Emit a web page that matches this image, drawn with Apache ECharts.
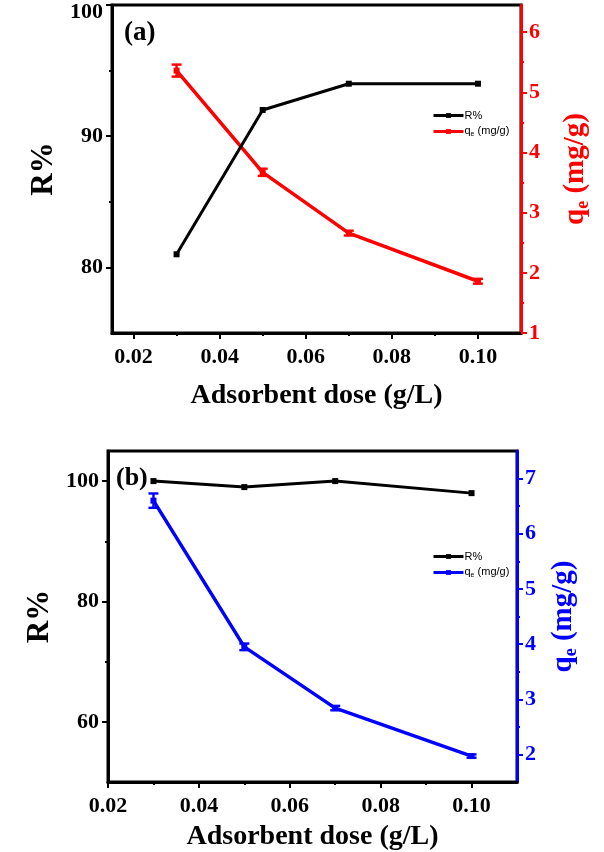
<!DOCTYPE html>
<html>
<head>
<meta charset="utf-8">
<script src="https://cdn.jsdelivr.net/npm/echarts@6/dist/echarts.min.js"></script>
<style>html,body{margin:0;padding:0;background:#fff}#c{width:604px;height:852px}</style>
</head>
<body>
<div id="c"></div>
<script>
// ---- data (a) ----
const doseA = [0.03, 0.05, 0.07, 0.10];
const removalA = [81, 92, 94, 94];
const qeA = [5.36, 3.67, 2.66, 1.86];
const qeErrA = [0.10, 0.06, 0.04, 0.04];
// ---- data (b) ----
const doseB = [0.03, 0.05, 0.07, 0.10];
const removalB = [100, 99, 100, 98];
const qeB = [6.6, 3.95, 2.84, 1.97];
const qeErrB = [0.13, 0.06, 0.04, 0.03];
// ---- ticks ----
const xTicks = [0.02, 0.04, 0.06, 0.08, 0.10];
const xMinor = [0.03, 0.05, 0.07, 0.09];
const yLeftTicksA = [80, 90, 100];
const yLeftMinorA = [85, 95];
const yRightTicksA = [1, 2, 3, 4, 5, 6];
const yRightMinorA = [1.5, 2.5, 3.5, 4.5, 5.5];
const yLeftTicksB = [60, 80, 100];
const yLeftMinorB = [70, 90];
const yRightTicksB = [2, 3, 4, 5, 6, 7];
const yRightMinorB = [2.5, 3.5, 4.5, 5.5, 6.5];

const SERIF = '"Liberation Serif", "Times New Roman", serif';
const SANS = '"Liberation Sans", Arial, sans-serif';
const TICK_FS = 22;

function pairs(xs, ys) { return xs.map((x, i) => [x, ys[i]]); }
function triples(xs, ys, es) { return xs.map((x, i) => [x, ys[i], es[i]]); }

function mainAxis(o) {
  return {
    type: 'value', gridIndex: o.grid, position: o.pos, min: o.min, max: o.max,
    axisLine: { show: true, onZero: false, lineStyle: { color: o.color, width: 3 } },
    axisTick: { show: true, inside: false, length: 6, customValues: o.ticks, lineStyle: { color: o.color, width: 2 } },
    axisLabel: {
      show: true, customValues: o.ticks, margin: o.margin,
      fontFamily: SERIF, fontWeight: 'bold', fontSize: TICK_FS, color: o.color,
      formatter: o.fmt, rich: o.rich
    },
    splitLine: { show: false },
    name: o.name, nameLocation: 'middle', nameGap: o.nameGap, nameRotate: o.nameRotate,
    nameTextStyle: o.nameStyle
  };
}
function minorAxis(o) {
  return {
    type: 'value', gridIndex: o.grid, position: o.pos, min: o.min, max: o.max,
    axisLine: { show: false, onZero: false },
    axisTick: { show: true, inside: false, length: 3, customValues: o.ticks, lineStyle: { color: o.color, width: 2 } },
    axisLabel: { show: false },
    splitLine: { show: false }
  };
}

const titleStyle = { fontFamily: SERIF, fontWeight: 'bold', fontSize: 28, color: '#000' };
function qeName(color) {
  return {
    name: '{q|q}{e|e}{q| (mg/g)}',
    style: {
      rich: {
        q: { fontFamily: SERIF, fontWeight: 'bold', fontSize: 29, color: color, verticalAlign: 'top', lineHeight: 30 },
        e: { fontFamily: SERIF, fontWeight: 'bold', fontSize: 18, color: color, verticalAlign: 'top', padding: [13, 0, 0, 0] }
      }
    }
  };
}
const qnA = qeName('#ff0000');
const qnB = qeName('#0000ff');

const xFmt = v => Number(v).toFixed(2);

const xAxes = [
  mainAxis({ grid: 0, pos: 'bottom', min: 0.015, max: 0.11, color: '#000', ticks: xTicks, margin: 13, fmt: xFmt,
    name: 'Adsorbent dose (g/L)', nameGap: 49, nameStyle: titleStyle }),
  minorAxis({ grid: 0, pos: 'bottom', min: 0.015, max: 0.11, color: '#000', ticks: xMinor }),
  mainAxis({ grid: 1, pos: 'bottom', min: 0.02, max: 0.11, color: '#000', ticks: xTicks, margin: 13, fmt: xFmt,
    name: 'Adsorbent dose (g/L)', nameGap: 41, nameStyle: titleStyle }),
  minorAxis({ grid: 1, pos: 'bottom', min: 0.02, max: 0.11, color: '#000', ticks: xMinor })
];

const rName = Object.assign({}, titleStyle, { fontSize: 31 });
const yAxes = [
  // grid 0
  mainAxis({ grid: 0, pos: 'left', min: 75, max: 100, color: '#000', ticks: yLeftTicksA, margin: 9,
    fmt: v => (v === 100 ? '{t|100}' : String(v)),
    rich: { t: { fontFamily: SERIF, fontWeight: 'bold', fontSize: TICK_FS, color: '#000', padding: [14, 0, 0, 0] } },
    name: 'R%', nameGap: 52, nameRotate: 90, nameStyle: rName }),
  minorAxis({ grid: 0, pos: 'left', min: 75, max: 100, color: '#000', ticks: yLeftMinorA }),
  mainAxis({ grid: 0, pos: 'right', min: 1, max: 6.45, color: '#ff0000', ticks: yRightTicksA, margin: 8, fmt: v => String(v),
    name: qnA.name, nameGap: 40, nameRotate: 90, nameStyle: qnA.style }),
  minorAxis({ grid: 0, pos: 'right', min: 1, max: 6.45, color: '#ff0000', ticks: yRightMinorA }),
  // grid 1
  mainAxis({ grid: 1, pos: 'left', min: 50, max: 105, color: '#000', ticks: yLeftTicksB, margin: 9, fmt: v => String(v),
    name: 'R%', nameGap: 50, nameRotate: 90, nameStyle: rName }),
  minorAxis({ grid: 1, pos: 'left', min: 50, max: 105, color: '#000', ticks: yLeftMinorB }),
  mainAxis({ grid: 1, pos: 'right', min: 1.5, max: 7.5, color: '#0000ff', ticks: yRightTicksB, margin: 8, fmt: v => String(v),
    name: qnB.name, nameGap: 32, nameRotate: 90, nameStyle: qnB.style }),
  minorAxis({ grid: 1, pos: 'right', min: 1.5, max: 7.5, color: '#0000ff', ticks: yRightMinorB })
];

function errBars(name, xi, yi, data, color) {
  return {
    type: 'custom', name: name, xAxisIndex: xi, yAxisIndex: yi, z: 5,
    data: data,
    renderItem: function (params, api) {
      const x = api.value(0), y = api.value(1), e = api.value(2);
      const hi = api.coord([x, y + e]);
      const lo = api.coord([x, y - e]);
      const w = 5;
      const st = { stroke: color, lineWidth: 2.4 };
      return {
        type: 'group',
        children: [
          { type: 'line', shape: { x1: hi[0], y1: hi[1], x2: lo[0], y2: lo[1] }, style: st },
          { type: 'line', shape: { x1: hi[0] - w, y1: hi[1], x2: hi[0] + w, y2: hi[1] }, style: st },
          { type: 'line', shape: { x1: lo[0] - w, y1: lo[1], x2: lo[0] + w, y2: lo[1] }, style: st }
        ]
      };
    }
  };
}

function lineSeries(name, xi, yi, data, color, width, z) {
  return {
    type: 'line', name: name, xAxisIndex: xi, yAxisIndex: yi, data: data, z: z,
    symbol: 'rect', symbolSize: 6, showSymbol: true,
    lineStyle: { color: color, width: width },
    itemStyle: { color: color },
    emphasis: { disabled: true },
    animation: false
  };
}

const legendNames = { 'R_a': 'R%', 'q_a': '{q|q}{e|e}{q| (mg/g)}', 'R_b': 'R%', 'q_b': '{q|q}{e|e}{q| (mg/g)}' };
const legendRich = {
  q: { fontFamily: SANS, fontSize: 11, color: '#000', verticalAlign: 'top', lineHeight: 13 },
  e: { fontFamily: SANS, fontSize: 7, color: '#000', verticalAlign: 'top', padding: [6, 0, 0, 0] }
};
function legend(names, left, top) {
  return {
    data: names, orient: 'vertical', left: left, top: top,
    itemWidth: 30, itemHeight: 6, itemGap: 4,
    lineStyle: { width: 3 },
    textStyle: { fontFamily: SANS, fontSize: 11, color: '#000', padding: [0, 0, 0, -4], rich: legendRich },
    formatter: n => legendNames[n],
    selectedMode: false
  };
}

const option = {
  animation: false,
  backgroundColor: '#fff',
  title: [
    { text: '(a)', left: 119, top: 15, textStyle: { fontFamily: SERIF, fontWeight: 'bold', fontSize: 27, color: '#000' } },
    { text: '(b)', left: 111, top: 460, textStyle: { fontFamily: SERIF, fontWeight: 'bold', fontSize: 26, color: '#000' } }
  ],
  legend: [
    legend(['R_a', 'q_a'], 427, 105),
    legend(['R_b', 'q_b'], 427, 546)
  ],
  grid: [
    { left: 112, right: 83, top: 5, height: 328, show: true, borderColor: '#000', borderWidth: 3, backgroundColor: 'transparent' },
    { left: 108, right: 87, top: 451, height: 332, show: true, borderColor: '#000', borderWidth: 3, backgroundColor: 'transparent' }
  ],
  xAxis: xAxes,
  yAxis: yAxes,
  series: [
    lineSeries('q_a', 0, 2, pairs(doseA, qeA), '#ff0000', 3.5, 3),
    lineSeries('R_a', 0, 0, pairs(doseA, removalA), '#000000', 3, 4),
    errBars('qerr_a', 0, 2, triples(doseA, qeA, qeErrA), '#ff0000'),
    lineSeries('q_b', 2, 6, pairs(doseB, qeB), '#0000ff', 3.5, 3),
    lineSeries('R_b', 2, 4, pairs(doseB, removalB), '#000000', 3, 4),
    errBars('qerr_b', 2, 6, triples(doseB, qeB, qeErrB), '#0000ff')
  ]
};

const chart = echarts.init(document.getElementById('c'), null, { renderer: 'canvas' });
chart.setOption(option);
</script>
</body>
</html>
